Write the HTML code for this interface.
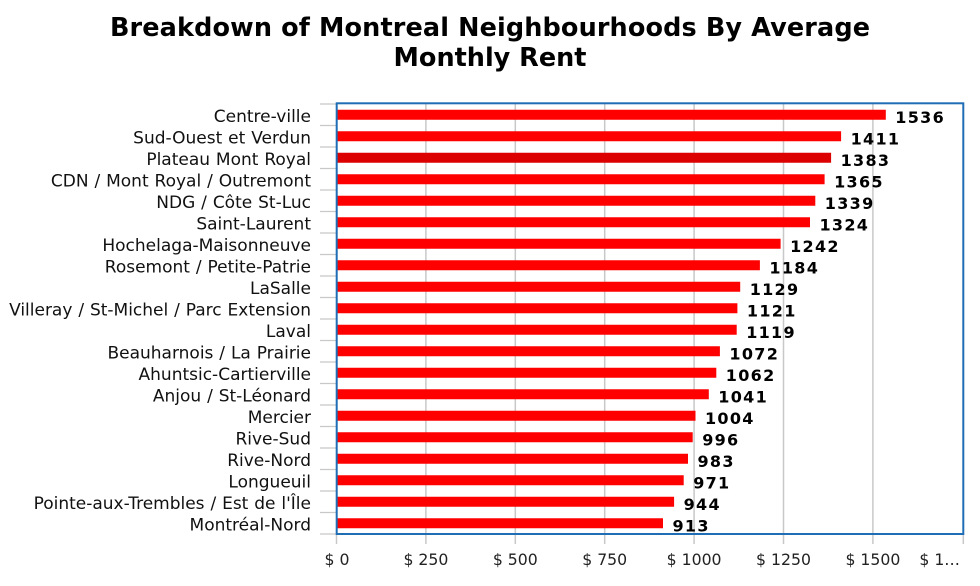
<!DOCTYPE html>
<html>
<head>
<meta charset="utf-8">
<style>
  html, body { margin: 0; padding: 0; background: #ffffff; }
  svg { display: block; }
  .title { font-family: "DejaVu Sans", "Liberation Sans", sans-serif; font-weight: bold; font-size: 25.5px; fill: #000; }
  .cat { font-family: "DejaVu Sans", "Liberation Sans", sans-serif; font-size: 17px; word-spacing: 0.5px; fill: #111; }
  .val { font-family: "DejaVu Sans", "Liberation Sans", sans-serif; font-weight: bold; font-size: 16px; letter-spacing: 1.3px; fill: #000; }
  .ax { font-family: "DejaVu Sans", "Liberation Sans", sans-serif; font-size: 15.7px; fill: #222; }
</style>
</head>
<body>
<svg width="980" height="586" viewBox="0 0 980 586" xmlns="http://www.w3.org/2000/svg">
  <rect x="0" y="0" width="980" height="586" fill="#ffffff"/>

  <!-- Title -->
  <text class="title" x="490" y="36" text-anchor="middle" textLength="760">Breakdown of Montreal Neighbourhoods By Average</text>
  <text class="title" x="490" y="66" text-anchor="middle">Monthly Rent</text>

  <!-- Vertical gridlines -->
  <g stroke="#c8c8c8" stroke-width="1.5">
    <line x1="336.5" y1="534" x2="336.5" y2="544"/>
    <line x1="425.9" y1="104" x2="425.9" y2="544"/>
    <line x1="515.3" y1="104" x2="515.3" y2="544"/>
    <line x1="604.7" y1="104" x2="604.7" y2="544"/>
    <line x1="694.1" y1="104" x2="694.1" y2="544"/>
    <line x1="783.5" y1="104" x2="783.5" y2="544"/>
    <line x1="872.9" y1="104" x2="872.9" y2="544"/>
    <line x1="963.3" y1="534" x2="963.3" y2="544"/>
  </g>

  <!-- Left row ticks -->
  <g stroke="#c8c8c8" stroke-width="1.2">
    <line x1="320" y1="104" x2="337" y2="104"/>
    <line x1="320" y1="125.5" x2="337" y2="125.5"/>
    <line x1="320" y1="147" x2="337" y2="147"/>
    <line x1="320" y1="168.5" x2="337" y2="168.5"/>
    <line x1="320" y1="190" x2="337" y2="190"/>
    <line x1="320" y1="211.5" x2="337" y2="211.5"/>
    <line x1="320" y1="233" x2="337" y2="233"/>
    <line x1="320" y1="254.5" x2="337" y2="254.5"/>
    <line x1="320" y1="276" x2="337" y2="276"/>
    <line x1="320" y1="297.5" x2="337" y2="297.5"/>
    <line x1="320" y1="319" x2="337" y2="319"/>
    <line x1="320" y1="340.5" x2="337" y2="340.5"/>
    <line x1="320" y1="362" x2="337" y2="362"/>
    <line x1="320" y1="383.5" x2="337" y2="383.5"/>
    <line x1="320" y1="405" x2="337" y2="405"/>
    <line x1="320" y1="426.5" x2="337" y2="426.5"/>
    <line x1="320" y1="448" x2="337" y2="448"/>
    <line x1="320" y1="469.5" x2="337" y2="469.5"/>
    <line x1="320" y1="491" x2="337" y2="491"/>
    <line x1="320" y1="512.5" x2="337" y2="512.5"/>
    <line x1="320" y1="534" x2="337" y2="534"/>
  </g>

  <!-- Bars -->
  <g fill="#ff0000">
    <rect x="337.5" y="109.75" width="548.3" height="10"/>
    <rect x="337.5" y="131.25" width="503.6" height="10"/>
    <rect x="337.5" y="152.75" width="493.6" height="10" fill="#dc0000"/>
    <rect x="337.5" y="174.25" width="487.1" height="10"/>
    <rect x="337.5" y="195.75" width="477.8" height="10"/>
    <rect x="337.5" y="217.25" width="472.5" height="10"/>
    <rect x="337.5" y="238.75" width="443.1" height="10"/>
    <rect x="337.5" y="260.25" width="422.4" height="10"/>
    <rect x="337.5" y="281.75" width="402.7" height="10"/>
    <rect x="337.5" y="303.25" width="399.9" height="10"/>
    <rect x="337.5" y="324.75" width="399.2" height="10"/>
    <rect x="337.5" y="346.25" width="382.4" height="10"/>
    <rect x="337.5" y="367.75" width="378.8" height="10"/>
    <rect x="337.5" y="389.25" width="371.3" height="10"/>
    <rect x="337.5" y="410.75" width="358.0" height="10"/>
    <rect x="337.5" y="432.25" width="355.2" height="10"/>
    <rect x="337.5" y="453.75" width="350.5" height="10"/>
    <rect x="337.5" y="475.25" width="346.2" height="10"/>
    <rect x="337.5" y="496.75" width="336.6" height="10"/>
    <rect x="337.5" y="518.25" width="325.5" height="10"/>
  </g>

  <!-- Plot border -->
  <rect x="336.7" y="103.3" width="626.6" height="430.7" fill="none" stroke="#1f6db5" stroke-width="2"/>

  <!-- Category labels -->
  <g class="cat" text-anchor="end">
    <text x="311" y="122">Centre-ville</text>
    <text x="311" y="143.5">Sud-Ouest et Verdun</text>
    <text x="311" y="165">Plateau Mont Royal</text>
    <text x="311" y="186.5">CDN / Mont Royal / Outremont</text>
    <text x="311" y="208">NDG / Côte St-Luc</text>
    <text x="311" y="229.5">Saint-Laurent</text>
    <text x="311" y="251">Hochelaga-Maisonneuve</text>
    <text x="311" y="272.5">Rosemont / Petite-Patrie</text>
    <text x="311" y="294">LaSalle</text>
    <text x="311" y="315.5">Villeray / St-Michel / Parc Extension</text>
    <text x="311" y="337">Laval</text>
    <text x="311" y="358.5">Beauharnois / La Prairie</text>
    <text x="311" y="380">Ahuntsic-Cartierville</text>
    <text x="311" y="401.5">Anjou / St-Léonard</text>
    <text x="311" y="423">Mercier</text>
    <text x="311" y="444.5">Rive-Sud</text>
    <text x="311" y="466">Rive-Nord</text>
    <text x="311" y="487.5">Longueuil</text>
    <text x="311" y="509">Pointe-aux-Trembles / Est de l'Île</text>
    <text x="311" y="530.5">Montréal-Nord</text>
  </g>

  <!-- Value labels -->
  <g class="val">
    <text x="895.3" y="122.75">1536</text>
    <text x="850.6" y="144.25">1411</text>
    <text x="840.6" y="165.75">1383</text>
    <text x="834.1" y="187.25">1365</text>
    <text x="824.8" y="208.75">1339</text>
    <text x="819.5" y="230.25">1324</text>
    <text x="790.1" y="251.75">1242</text>
    <text x="769.4" y="273.25">1184</text>
    <text x="749.7" y="294.75">1129</text>
    <text x="746.9" y="316.25">1121</text>
    <text x="746.2" y="337.75">1119</text>
    <text x="729.4" y="359.25">1072</text>
    <text x="725.8" y="380.75">1062</text>
    <text x="718.3" y="402.25">1041</text>
    <text x="705.0" y="423.75">1004</text>
    <text x="702.2" y="445.25">996</text>
    <text x="697.5" y="466.75">983</text>
    <text x="693.2" y="488.25">971</text>
    <text x="683.6" y="509.75">944</text>
    <text x="672.5" y="531.25">913</text>
  </g>

  <!-- X axis labels -->
  <g class="ax" text-anchor="middle">
    <text x="337" y="565">$ 0</text>
    <text x="425.9" y="565">$ 250</text>
    <text x="515.3" y="565">$ 500</text>
    <text x="604.7" y="565">$ 750</text>
    <text x="694.1" y="565">$ 1000</text>
    <text x="783.5" y="565">$ 1250</text>
    <text x="872.9" y="565">$ 1500</text>
    <text x="960" y="565" text-anchor="end">$ 1…</text>
  </g>
</svg>
</body>
</html>
